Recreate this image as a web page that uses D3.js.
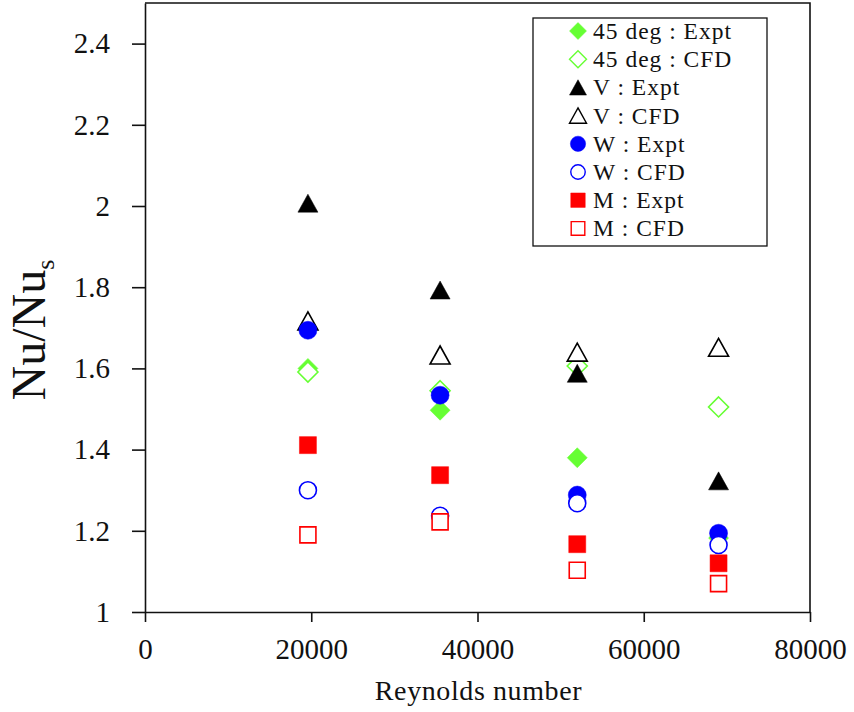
<!DOCTYPE html>
<html>
<head>
<meta charset="utf-8">
<script src="https://cdn.jsdelivr.net/npm/d3@7"></script>
<style>
  html, body { margin: 0; padding: 0; background: #fff; }
  svg { display: block; font-family: "Liberation Serif", "Times New Roman", serif; }
</style>
</head>
<body>
<svg id="chart" width="854" height="712"></svg>
<script>
// Reynolds numbers of the four test conditions
const reynolds = [19600, 35500, 52000, 69000];

// Nusselt number ratio Nu/Nu_s per rib configuration
const deg45Expt = [1.600, 1.497, 1.380, 1.182];
const deg45CFD  = [1.591, 1.545, 1.606, 1.505];
const vExpt     = [2.007, 1.793, 1.588, 1.323];
const vCFD      = [1.717, 1.633, 1.640, 1.652];
const wExpt     = [1.694, 1.534, 1.288, 1.194];
const wCFD      = [1.300, 1.237, 1.268, 1.165];
const mExpt     = [1.411, 1.337, 1.167, 1.120];
const mCFD      = [1.190, 1.222, 1.103, 1.070];

const xTicks = [0, 20000, 40000, 60000, 80000];
const yTicks = [1, 1.2, 1.4, 1.6, 1.8, 2, 2.2, 2.4];

const GREEN = "#66ff33", BLUE = "#0000ff", RED = "#ff0000", BLACK = "#000000";

// Custom marker shapes: size is the half-width of the marker
const shapes = {
  diamond: { draw(ctx, r) { ctx.moveTo(0, -r); ctx.lineTo(r, 0); ctx.lineTo(0, r); ctx.lineTo(-r, 0); ctx.closePath(); } },
  triangle: { draw(ctx, r) { const h = r * 0.9; ctx.moveTo(0, -h); ctx.lineTo(r, h); ctx.lineTo(-r, h); ctx.closePath(); } },
  circle: { draw(ctx, r) { ctx.moveTo(r, 0); ctx.arc(0, 0, r, 0, 2 * Math.PI); } },
  square: { draw(ctx, r) { ctx.rect(-r, -r, 2 * r, 2 * r); } }
};

const series = [
  { name: "45 deg : Expt", values: deg45Expt, shape: "diamond",  color: GREEN, filled: true,  r: 10 },
  { name: "45 deg : CFD",  values: deg45CFD,  shape: "diamond",  color: GREEN, filled: false, r: 10 },
  { name: "V : Expt",      values: vExpt,     shape: "triangle", color: BLACK, filled: true,  r: 10 },
  { name: "V : CFD",       values: vCFD,      shape: "triangle", color: BLACK, filled: false, r: 10 },
  { name: "W : Expt",      values: wExpt,     shape: "circle",   color: BLUE,  filled: true,  r: 9 },
  { name: "W : CFD",       values: wCFD,      shape: "circle",   color: BLUE,  filled: false, r: 8.5 },
  { name: "M : Expt",      values: mExpt,     shape: "square",   color: RED,   filled: true,  r: 8.5 },
  { name: "M : CFD",       values: mCFD,      shape: "square",   color: RED,   filled: false, r: 8 }
];

const svg = d3.select("#chart");
const plotLeft = 145, plotRight = 810, plotTop = 3, plotBottom = 612;

const x = d3.scaleLinear().domain([0, 80000]).range([plotLeft, plotRight]);
const y = d3.scaleLinear().domain([1, 2.5]).range([plotBottom, plotTop]);

// Plot frame (top and right edges)
svg.append("path")
  .attr("d", `M${plotLeft},${plotTop}H${plotRight}V${plotBottom}`)
  .attr("fill", "none").attr("stroke", "#111").attr("stroke-width", 1.6);

// X axis
const xAxis = svg.append("g")
  .attr("transform", `translate(0,${plotBottom})`)
  .call(d3.axisBottom(x).tickValues(xTicks).tickFormat(d3.format("d")).tickSize(10).tickSizeOuter(0).tickPadding(16));
xAxis.select(".domain").attr("stroke", "#111").attr("stroke-width", 1.6);
xAxis.selectAll(".tick line").attr("stroke", "#111").attr("stroke-width", 1.6);
xAxis.selectAll(".tick text").attr("font-size", 29).attr("font-family", "Liberation Serif").attr("fill", "#111");

// Y axis
const yAxis = svg.append("g")
  .attr("transform", `translate(${plotLeft},0)`)
  .call(d3.axisLeft(y).tickValues(yTicks).tickFormat(d => String(d)).tickSize(13).tickSizeOuter(0).tickPadding(22));
yAxis.select(".domain").attr("stroke", "#111").attr("stroke-width", 1.6);
yAxis.selectAll(".tick line").attr("stroke", "#111").attr("stroke-width", 1.6);
yAxis.selectAll(".tick text").attr("font-size", 29).attr("font-family", "Liberation Serif").attr("fill", "#111");

// Axis titles
svg.append("text")
  .attr("x", (plotLeft + plotRight) / 2 + 1).attr("y", 700)
  .attr("text-anchor", "middle").attr("font-size", 28).attr("letter-spacing", 0.6).attr("fill", "#111")
  .text("Reynolds number");

const yTitle = svg.append("text")
  .attr("transform", "translate(45,330) rotate(-90)")
  .attr("text-anchor", "middle").attr("font-size", 48).attr("fill", "#111");
yTitle.append("tspan").text("Nu/Nu");
yTitle.append("tspan").attr("font-size", 26).attr("dy", 9).text("s");

// Data markers, drawn in legend order
const sym = d3.symbol();
series.forEach(s => {
  svg.append("g").selectAll("path")
    .data(s.values.map((v, i) => ({ re: reynolds[i], v })))
    .join("path")
    .attr("transform", d => `translate(${x(d.re)},${y(d.v)})`)
    .attr("d", sym.type(shapes[s.shape]).size(s.r)())
    .attr("fill", s.filled ? s.color : "#fff")
    .attr("stroke", s.color)
    .attr("stroke-width", s.filled ? 0.5 : 1.6);
});

// Legend
const legend = svg.append("g");
legend.append("rect")
  .attr("x", 533).attr("y", 18).attr("width", 234).attr("height", 228)
  .attr("fill", "#fff").attr("stroke", "#111").attr("stroke-width", 1.3);
series.forEach((s, i) => {
  const cy = 31 + i * 28.2;
  legend.append("path")
    .attr("transform", `translate(578,${cy})`)
    .attr("d", sym.type(shapes[s.shape]).size(s.r * 0.85)())
    .attr("fill", s.filled ? s.color : "#fff")
    .attr("stroke", s.color)
    .attr("stroke-width", s.filled ? 0.5 : 1.4);
  legend.append("text")
    .attr("x", 593).attr("y", cy + 8)
    .attr("font-size", 23.5).attr("letter-spacing", 1.0).attr("fill", "#111")
    .text(s.name);
});
</script>
</body>
</html>
